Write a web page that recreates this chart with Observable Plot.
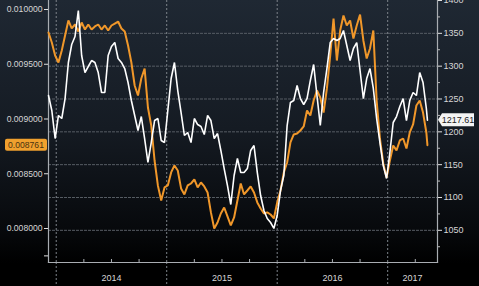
<!DOCTYPE html>
<html>
<head>
<meta charset="utf-8">
<script src="https://cdn.jsdelivr.net/npm/d3@7"></script>
<script src="https://cdn.jsdelivr.net/npm/@observablehq/plot@0.6"></script>
<style>
  html, body { margin: 0; padding: 0; background: #000; }
  #chart svg { display: block; }
</style>
</head>
<body>
<div id="chart"></div>
<script>
// Dates as decimal years
const dates = [
  2013.93, 2013.96, 2013.99, 2014.02, 2014.05, 2014.08, 2014.11, 2014.14, 2014.17, 2014.20,
  2014.23, 2014.26, 2014.29, 2014.32, 2014.35, 2014.38, 2014.41, 2014.44, 2014.47, 2014.50,
  2014.53, 2014.56, 2014.59, 2014.62, 2014.65, 2014.68, 2014.71, 2014.74, 2014.77, 2014.80,
  2014.83, 2014.86, 2014.89, 2014.92, 2014.95, 2014.98, 2015.01, 2015.04, 2015.07, 2015.10,
  2015.13, 2015.16, 2015.19, 2015.22, 2015.25, 2015.28, 2015.31, 2015.34, 2015.37, 2015.40,
  2015.43, 2015.46, 2015.49, 2015.52, 2015.55, 2015.58, 2015.61, 2015.64, 2015.67, 2015.70,
  2015.73, 2015.76, 2015.79, 2015.82, 2015.85, 2015.88, 2015.91, 2015.94, 2015.97, 2016.00,
  2016.03, 2016.06, 2016.09, 2016.12, 2016.15, 2016.18, 2016.21, 2016.24, 2016.27, 2016.30,
  2016.33, 2016.36, 2016.39, 2016.42, 2016.45, 2016.48, 2016.51, 2016.54, 2016.57, 2016.60,
  2016.63, 2016.66, 2016.69, 2016.72, 2016.75, 2016.78, 2016.81, 2016.84, 2016.87, 2016.90,
  2016.93, 2016.96, 2016.99, 2017.02, 2017.05, 2017.08, 2017.11, 2017.14, 2017.17, 2017.20,
  2017.23, 2017.26, 2017.29, 2017.32, 2017.35, 2017.36
];

// Orange series (left axis)
const orangeSeries = [
  0.009790, 0.009699, 0.009580, 0.009516, 0.009626, 0.009763, 0.009900, 0.009827, 0.009863, 0.009799,
  0.009881, 0.009817, 0.009863, 0.009817, 0.009845, 0.009863, 0.009817, 0.009854, 0.009808, 0.009854,
  0.009872, 0.009890, 0.009827, 0.009799, 0.009671, 0.009516, 0.009306, 0.009215, 0.009370, 0.009461,
  0.009105, 0.008941, 0.008621, 0.008393, 0.008256, 0.008375, 0.008393, 0.008512, 0.008576, 0.008530,
  0.008366, 0.008311, 0.008393, 0.008411, 0.008448, 0.008375, 0.008420, 0.008384, 0.008329, 0.008147,
  0.008000, 0.008055, 0.008137, 0.008192, 0.008110, 0.008028, 0.008101, 0.008256, 0.008411, 0.008311,
  0.008347, 0.008384, 0.008329, 0.008238, 0.008183, 0.008137, 0.008147, 0.008128, 0.008092, 0.008238,
  0.008347, 0.008512, 0.008603, 0.008786, 0.008859, 0.008868, 0.008895, 0.008932, 0.009078, 0.009032,
  0.009169, 0.009260, 0.009196, 0.009059, 0.009279, 0.009580, 0.009918, 0.009534, 0.009808, 0.009945,
  0.009854, 0.009900, 0.009735, 0.009854, 0.009954, 0.009717, 0.009553, 0.009644, 0.009808, 0.009169,
  0.008822, 0.008594, 0.008466, 0.008621, 0.008758, 0.008713, 0.008804, 0.008822, 0.008731, 0.008877,
  0.008950, 0.009123, 0.009169, 0.009059, 0.008877, 0.008761
];

// White series (right axis)
const whiteSeries = [
  1255.3, 1232.5, 1189.8, 1224.9, 1220.3, 1250.7, 1305.6, 1333.0, 1345.2, 1384.8,
  1316.2, 1290.3, 1299.5, 1308.6, 1305.6, 1290.3, 1259.9, 1259.9, 1316.2, 1329.9,
  1336.0, 1311.7, 1305.6, 1296.4, 1275.1, 1247.7, 1224.9, 1202.0, 1223.3, 1189.8,
  1153.3, 1183.7, 1217.2, 1220.3, 1186.8, 1183.7, 1232.5, 1281.2, 1305.6, 1262.9,
  1229.4, 1194.4, 1199.0, 1183.7, 1220.3, 1211.1, 1208.1, 1195.9, 1224.9, 1217.2,
  1189.8, 1197.4, 1171.6, 1144.1, 1118.2, 1089.3, 1133.5, 1159.4, 1138.0, 1138.0,
  1144.1, 1171.6, 1179.2, 1138.0, 1103.0, 1080.2, 1068.0, 1061.9, 1052.8, 1072.6,
  1110.6, 1133.5, 1209.6, 1244.7, 1247.7, 1270.5, 1250.7, 1241.6, 1250.7, 1278.2,
  1302.5, 1255.3, 1209.6, 1259.9, 1296.4, 1336.0, 1342.1, 1339.1, 1342.1, 1354.3,
  1331.5, 1308.6, 1326.9, 1336.0, 1293.4, 1250.7, 1281.2, 1296.4, 1266.0, 1220.3,
  1183.7, 1148.7, 1128.9, 1168.5, 1214.2, 1223.3, 1238.6, 1250.7, 1217.2, 1247.7,
  1259.9, 1255.3, 1290.3, 1275.1, 1235.5, 1217.61
];

const leftTicks = [0.008, 0.0085, 0.009, 0.0095, 0.010];
const leftMinorTicks = [0.00775];
const rightTicks = [1050, 1100, 1150, 1200, 1250, 1300, 1350, 1400];
const rightMinorTicks = [1025, 1075, 1125, 1175, 1225, 1275, 1325, 1375];
const yearBounds = [2014, 2015, 2016, 2017];
const quarterTicks = [2014.25, 2014.5, 2014.75, 2015.25, 2015.5, 2015.75, 2016.25, 2016.5, 2016.75, 2017.25];
const yearLabels = ["2014", "2015", "2016", "2017"];
const yearLabelPos = [2014.5, 2015.5, 2016.5, 2017.225];

const lastOrangeLabel = "0.008761";
const lastWhiteLabel = "1217.61";

const xDomain = [2013.930, 2017.451];
const leftDomain = [0.0076895, 0.0100822];
const rightDomain = [1001, 1400];
const toLeft = d3.scaleLinear().domain(rightDomain).range(leftDomain);

const orangeData = dates.map((t, i) => ({t, v: orangeSeries[i]}));
const whiteData = dates.map((t, i) => ({t, v: toLeft(whiteSeries[i])}));

const W = 479, H = 286, mL = 48, mR = 42, mT = 0, mB = 24;
const axisColor = "#a9adb2";
const textColor = "#d6d6d6";
const font = "'Liberation Sans', Arial, sans-serif";

const chart = Plot.plot({
  width: W, height: H,
  marginLeft: mL, marginRight: mR, marginTop: mT, marginBottom: mB,
  x: {type: "linear", domain: xDomain, label: null},
  y: {domain: leftDomain, label: null},
  style: {
    background: "linear-gradient(to bottom, #1f2833 0%, #151b23 45%, #07090c 80%, #000 92%)",
    color: textColor,
    fontFamily: font,
    fontSize: "9px"
  },
  marks: [
    Plot.ruleY(rightTicks.slice(0, -1).map(toLeft), {stroke: "#575d64", strokeWidth: 1, strokeDasharray: "3,1"}),
    Plot.ruleX(yearBounds, {stroke: "#7d838a", strokeWidth: 1, strokeDasharray: "2,2"}),
    Plot.axisX(yearBounds, {tickSize: mB, tickFormat: () => "", label: null, stroke: "#7d838a", strokeDasharray: "2,2"}),
    Plot.axisX(quarterTicks, {tickSize: -3, tickFormat: () => "", label: null, stroke: axisColor}),
    Plot.axisX(yearLabelPos, {tickSize: 0, tickPadding: 12, label: null, tickFormat: (d, i) => yearLabels[i], fill: textColor, fontSize: 9}),
    Plot.frame({anchor: "left", stroke: axisColor, strokeWidth: 1.2}),
    Plot.frame({anchor: "bottom", stroke: axisColor, strokeWidth: 1.2}),
    Plot.frame({anchor: "right", stroke: axisColor, strokeWidth: 1.2}),
    Plot.axisY(leftTicks, {anchor: "left", label: null, tickSize: 4, tickPadding: 2, tickFormat: d => d.toFixed(6), stroke: "#e0e0e0", fill: textColor, fontSize: 8.6}),
    Plot.axisY(leftMinorTicks, {anchor: "left", label: null, tickSize: 4, tickFormat: () => "", stroke: "#e0e0e0"}),
    Plot.axisY(rightTicks.map(toLeft), {anchor: "right", label: null, tickSize: 4, tickPadding: 2, tickFormat: d => String(Math.round(toLeft.invert(d))), stroke: "#e0e0e0", fill: textColor, fontSize: 9}),
    Plot.axisY(rightMinorTicks.map(toLeft), {anchor: "right", label: null, tickSize: 2, tickFormat: () => "", stroke: "#bbb"}),
    Plot.lineY(orangeData, {x: "t", y: "v", stroke: "#f0972a", strokeWidth: 2, strokeLinejoin: "miter"}),
    Plot.lineY(whiteData, {x: "t", y: "v", stroke: "#ffffff", strokeWidth: 1.6, strokeLinejoin: "miter"})
  ]
});

// Last-value tags placed through the plot's own y scale
const yScale = chart.scale("y");
const svg = d3.select(chart);
const tags = svg.append("g").attr("font-family", font);

const yo = yScale.apply(orangeSeries[orangeSeries.length - 1]);
tags.append("rect")
  .attr("x", 5).attr("y", yo - 6).attr("width", mL - 6).attr("height", 12).attr("rx", 2)
  .attr("fill", "#f0a02e");
tags.append("text")
  .attr("x", 5 + (mL - 6) / 2).attr("y", yo).attr("dy", "0.34em")
  .attr("text-anchor", "middle").attr("font-size", 8.6).attr("fill", "#4a3210")
  .text(lastOrangeLabel);

const yw = yScale.apply(toLeft(whiteSeries[whiteSeries.length - 1]));
const xr = W - mR;
tags.append("polygon")
  .attr("points", [[xr + 1, yw], [xr + 5, yw - 6.5], [W - 5, yw - 6.5], [W - 5, yw + 6.5], [xr + 5, yw + 6.5]].map(p => p.join(",")).join(" "))
  .attr("fill", "#f4f4f4");
tags.append("text")
  .attr("x", (xr + 5 + W - 5) / 2).attr("y", yw).attr("dy", "0.34em")
  .attr("text-anchor", "middle").attr("font-size", 9).attr("fill", "#222")
  .text(lastWhiteLabel);

document.getElementById("chart").appendChild(chart);
</script>
</body>
</html>
